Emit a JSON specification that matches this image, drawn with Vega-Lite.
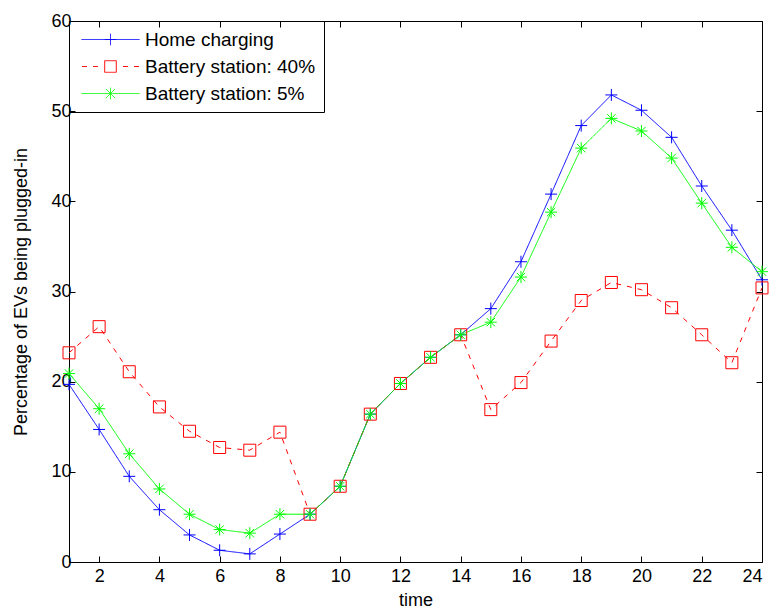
{
  "$schema": "https://vega.github.io/schema/vega-lite/v6.json",
  "width": 693,
  "height": 541,
  "autosize": "none",
  "padding": {"left": 69, "top": 21, "right": 14, "bottom": 48},
  "background": "white",
  "config": {
    "font": "Liberation Sans",
    "view": {"stroke": "black", "strokeWidth": 1},
    "axis": {
      "grid": false,
      "domain": false,
      "tickColor": "black",
      "tickSize": -6,
      "labelColor": "black",
      "labelFont": "Liberation Sans",
      "labelFontSize": 18,
      "titleFont": "Liberation Sans",
      "titleFontSize": 18,
      "titleFontWeight": "normal",
      "titleColor": "black"
    },
    "legend": {
      "labelFont": "Liberation Sans",
      "labelFontSize": 19,
      "labelColor": "black",
      "labelLimit": 400
    }
  },
  "data": {
    "values": [
      {"time": 1, "series": "Home charging", "value": 19.7},
      {"time": 2, "series": "Home charging", "value": 14.7},
      {"time": 3, "series": "Home charging", "value": 9.5},
      {"time": 4, "series": "Home charging", "value": 5.8},
      {"time": 5, "series": "Home charging", "value": 3.0},
      {"time": 6, "series": "Home charging", "value": 1.3},
      {"time": 7, "series": "Home charging", "value": 0.9},
      {"time": 8, "series": "Home charging", "value": 3.1},
      {"time": 9, "series": "Home charging", "value": 5.3},
      {"time": 10, "series": "Home charging", "value": 8.4},
      {"time": 11, "series": "Home charging", "value": 16.4},
      {"time": 12, "series": "Home charging", "value": 19.8},
      {"time": 13, "series": "Home charging", "value": 22.7},
      {"time": 14, "series": "Home charging", "value": 25.2},
      {"time": 15, "series": "Home charging", "value": 28.1},
      {"time": 16, "series": "Home charging", "value": 33.3},
      {"time": 17, "series": "Home charging", "value": 40.8},
      {"time": 18, "series": "Home charging", "value": 48.4},
      {"time": 19, "series": "Home charging", "value": 51.8},
      {"time": 20, "series": "Home charging", "value": 50.1},
      {"time": 21, "series": "Home charging", "value": 47.1},
      {"time": 22, "series": "Home charging", "value": 41.7},
      {"time": 23, "series": "Home charging", "value": 36.8},
      {"time": 24, "series": "Home charging", "value": 31.3},
      {"time": 1, "series": "Battery station: 40%", "value": 23.2},
      {"time": 2, "series": "Battery station: 40%", "value": 26.1},
      {"time": 3, "series": "Battery station: 40%", "value": 21.1},
      {"time": 4, "series": "Battery station: 40%", "value": 17.2},
      {"time": 5, "series": "Battery station: 40%", "value": 14.5},
      {"time": 6, "series": "Battery station: 40%", "value": 12.7},
      {"time": 7, "series": "Battery station: 40%", "value": 12.4},
      {"time": 8, "series": "Battery station: 40%", "value": 14.4},
      {"time": 9, "series": "Battery station: 40%", "value": 5.3},
      {"time": 10, "series": "Battery station: 40%", "value": 8.4},
      {"time": 11, "series": "Battery station: 40%", "value": 16.4},
      {"time": 12, "series": "Battery station: 40%", "value": 19.8},
      {"time": 13, "series": "Battery station: 40%", "value": 22.7},
      {"time": 14, "series": "Battery station: 40%", "value": 25.2},
      {"time": 15, "series": "Battery station: 40%", "value": 16.9},
      {"time": 16, "series": "Battery station: 40%", "value": 19.9},
      {"time": 17, "series": "Battery station: 40%", "value": 24.5},
      {"time": 18, "series": "Battery station: 40%", "value": 29.0},
      {"time": 19, "series": "Battery station: 40%", "value": 31.0},
      {"time": 20, "series": "Battery station: 40%", "value": 30.2},
      {"time": 21, "series": "Battery station: 40%", "value": 28.2},
      {"time": 22, "series": "Battery station: 40%", "value": 25.2},
      {"time": 23, "series": "Battery station: 40%", "value": 22.1},
      {"time": 24, "series": "Battery station: 40%", "value": 30.4},
      {"time": 1, "series": "Battery station: 5%", "value": 20.9},
      {"time": 2, "series": "Battery station: 5%", "value": 17.0},
      {"time": 3, "series": "Battery station: 5%", "value": 12.0},
      {"time": 4, "series": "Battery station: 5%", "value": 8.1},
      {"time": 5, "series": "Battery station: 5%", "value": 5.3},
      {"time": 6, "series": "Battery station: 5%", "value": 3.6},
      {"time": 7, "series": "Battery station: 5%", "value": 3.2},
      {"time": 8, "series": "Battery station: 5%", "value": 5.3},
      {"time": 9, "series": "Battery station: 5%", "value": 5.3},
      {"time": 10, "series": "Battery station: 5%", "value": 8.4},
      {"time": 11, "series": "Battery station: 5%", "value": 16.4},
      {"time": 12, "series": "Battery station: 5%", "value": 19.8},
      {"time": 13, "series": "Battery station: 5%", "value": 22.7},
      {"time": 14, "series": "Battery station: 5%", "value": 25.2},
      {"time": 15, "series": "Battery station: 5%", "value": 26.6},
      {"time": 16, "series": "Battery station: 5%", "value": 31.6},
      {"time": 17, "series": "Battery station: 5%", "value": 38.8},
      {"time": 18, "series": "Battery station: 5%", "value": 45.9},
      {"time": 19, "series": "Battery station: 5%", "value": 49.2},
      {"time": 20, "series": "Battery station: 5%", "value": 47.8},
      {"time": 21, "series": "Battery station: 5%", "value": 44.8},
      {"time": 22, "series": "Battery station: 5%", "value": 39.8},
      {"time": 23, "series": "Battery station: 5%", "value": 34.9},
      {"time": 24, "series": "Battery station: 5%", "value": 32.2}
    ]
  },
  "resolve": {"axis": {"x": "independent", "y": "independent"}},
  "layer": [
    {
      "mark": {"type": "line", "strokeWidth": 1},
      "encoding": {
        "x": {
          "field": "time", "type": "quantitative",
          "scale": {"domain": [1, 24], "nice": false, "zero": false},
          "axis": {"orient": "bottom", "values": [2,4,6,8,10,12,14,16,18,20,22,24], "title": "time", "labelPadding": 11, "titlePadding": 6}
        },
        "y": {
          "field": "value", "type": "quantitative",
          "scale": {"domain": [0, 60], "nice": false},
          "axis": {"orient": "left", "values": [0,10,20,30,40,50,60], "title": "Percentage of EVs being plugged-in", "labelPadding": 4, "titlePadding": 20}
        },
        "color": {
          "field": "series", "type": "nominal",
          "scale": {"domain": ["Home charging", "Battery station: 40%", "Battery station: 5%"], "range": ["#0000ff", "#ff0000", "#00ff00"]},
          "legend": {
            "orient": "top-left", "offset": 0, "title": null,
            "symbolSize": 3364, "symbolStrokeWidth": 1, "symbolFillColor": "transparent", "symbolOffset": 4,
            "strokeColor": "black", "padding": 8, "labelOffset": 5, "rowPadding": 6, "clipHeight": 21,
            "encode": {
              "symbols": {
                "update": {
                  "shape": {"signal": "datum.index === 0 ? 'M-1,0L1,0M-0.2,0L0.2,0M0,-0.2L0,0.2' : (datum.index === 1 ? 'M-0.98,0L-0.81,0M-0.6,0L-0.43,0M0.43,0L0.6,0M0.81,0L0.98,0M-0.2,-0.2L0.2,-0.2L0.2,0.2L-0.2,0.2L-0.2,-0.2' : 'M-1,0L1,0M0,-0.2L0,0.2M-0.15,-0.15L0.15,0.15M-0.15,0.15L0.15,-0.15')"},
                  "stroke": {"signal": "datum.index === 0 ? '#0000ff' : (datum.index === 1 ? '#ff0000' : '#00ff00')"},
                  "fill": {"value": "transparent"},
                  "strokeWidth": {"value": 1},
                  "strokeDash": {"value": [1, 0]},
                  "opacity": {"value": 1}
                }
              }
            }
          }
        },
        "strokeDash": {
          "condition": {"test": "datum.series === 'Battery station: 40%'", "value": [5, 6]},
          "value": [1, 0]
        }
      }
    },
    {
      "mark": {"type": "point", "filled": false, "strokeWidth": 1, "size": 144, "opacity": 1},
      "encoding": {
        "x": {
          "field": "time", "type": "quantitative",
          "scale": {"domain": [1, 24], "nice": false, "zero": false},
          "axis": {"orient": "top", "values": [2,4,6,8,10,12,14,16,18,20,22,24], "labels": false, "title": null}
        },
        "y": {
          "field": "value", "type": "quantitative",
          "scale": {"domain": [0, 60], "nice": false},
          "axis": {"orient": "right", "values": [0,10,20,30,40,50,60], "labels": false, "title": null}
        },
        "color": {
          "field": "series", "type": "nominal",
          "scale": {"domain": ["Home charging", "Battery station: 40%", "Battery station: 5%"], "range": ["#0000ff", "#ff0000", "#00ff00"]}
        },
        "shape": {
          "condition": [
            {"test": "datum.series === 'Home charging'", "value": "M-1,0L1,0M0,-1L0,1"},
            {"test": "datum.series === 'Battery station: 40%'", "value": "square"}
          ],
          "value": "M-1,0L1,0M0,-1L0,1M-0.7,-0.7L0.7,0.7M-0.7,0.7L0.7,-0.7"
        }
      }
    }
  ]
}
